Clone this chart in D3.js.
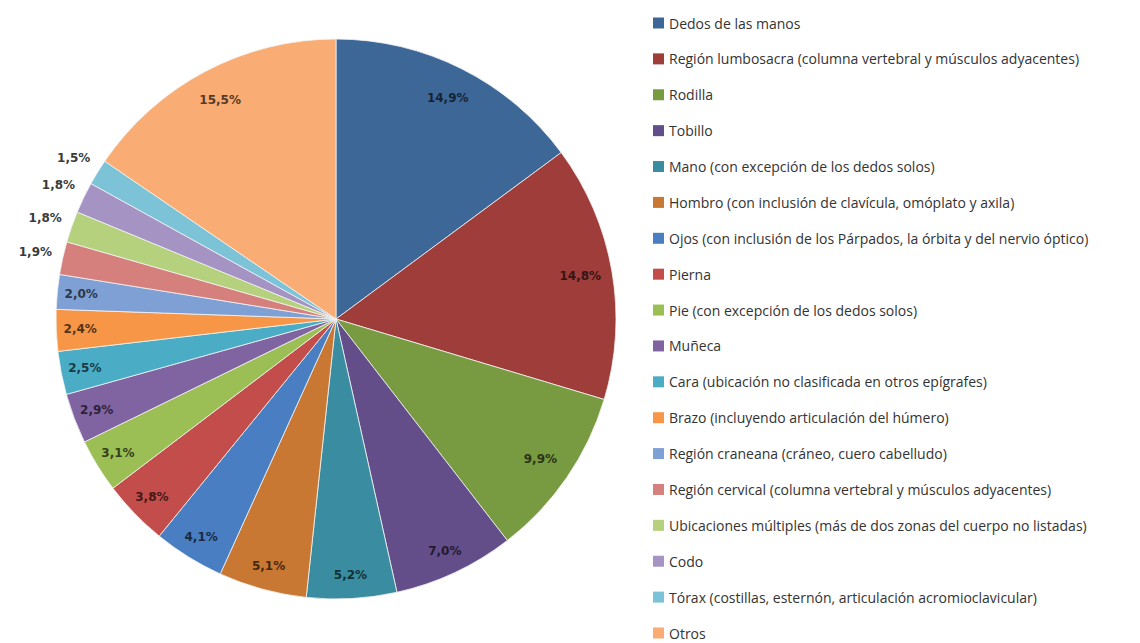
<!DOCTYPE html>
<html>
<head>
<meta charset="utf-8">
<script src="https://cdn.jsdelivr.net/npm/d3@7"></script>
<style>
  html, body { margin: 0; padding: 0; background: #fff; }
  svg { display: block; }
</style>
</head>
<body>
<svg id="chart" width="1140" height="643"></svg>
<script>
const categories = [
  "Dedos de las manos",
  "Región lumbosacra (columna vertebral y músculos adyacentes)",
  "Rodilla",
  "Tobillo",
  "Mano (con excepción de los dedos solos)",
  "Hombro (con inclusión de clavícula, omóplato y axila)",
  "Ojos (con inclusión de los Párpados, la órbita y del nervio óptico)",
  "Pierna",
  "Pie (con excepción de los dedos solos)",
  "Muñeca",
  "Cara (ubicación no clasificada en otros epígrafes)",
  "Brazo (incluyendo articulación del húmero)",
  "Región craneana (cráneo, cuero cabelludo)",
  "Región cervical (columna vertebral y músculos adyacentes)",
  "Ubicaciones múltiples (más de dos zonas del cuerpo no listadas)",
  "Codo",
  "Tórax (costillas, esternón, articulación acromioclavicular)",
  "Otros"
];
const values = [14.9, 14.8, 9.9, 7.0, 5.2, 5.1, 4.1, 3.8, 3.1, 2.9, 2.5, 2.4, 2.0, 1.9, 1.8, 1.8, 1.5, 15.5];
const labels = ["14,9%", "14,8%", "9,9%", "7,0%", "5,2%", "5,1%", "4,1%", "3,8%", "3,1%", "2,9%", "2,5%", "2,4%", "2,0%", "1,9%", "1,8%", "1,8%", "1,5%", "15,5%"];
const colors = ["#3D6797", "#9E3D3A", "#789A40", "#634E8A", "#3A8DA0", "#C97833",
                "#4A7EC2", "#C24D4A", "#9BBE55", "#8064A2", "#4BACC6", "#F79646",
                "#7FA0D4", "#D6807E", "#B5D17D", "#A593C4", "#7CC3D8", "#F9AC74"];

const svg = d3.select("#chart");
const cx = 336, cy = 319, R = 280;

const data = categories.map((c, i) => ({ name: c, value: values[i], label: labels[i], color: colors[i] }));
const pie = d3.pie().value(d => d.value).sort(null);
const arcs = pie(data);
const arc = d3.arc().innerRadius(0).outerRadius(R);
const inLabelArc = d3.arc().innerRadius(255).outerRadius(255);
const outLabelArc = d3.arc().innerRadius(308).outerRadius(308);

const g = svg.append("g").attr("transform", `translate(${cx},${cy})`);
g.selectAll("path.slice").data(arcs).join("path")
  .attr("class", "slice")
  .attr("d", arc)
  .attr("fill", d => d.data.color)
  .attr("stroke", "#f4f4f4")
  .attr("stroke-width", 0.8);

g.selectAll("text.lbl").data(arcs).join("text")
  .attr("class", "lbl")
  .attr("transform", d => {
    const big = d.data.value >= 2.0;
    const base = big ? inLabelArc : outLabelArc;
    // bigger slices: labels sit a little further in
    let r = big ? (d.data.value > 8 ? 248 : 256) : 308;
    const a = d3.arc().innerRadius(r).outerRadius(r);
    const [x, y] = a.centroid(d);
    return `translate(${x},${y})`;
  })
  .attr("text-anchor", "middle")
  .attr("dominant-baseline", "central")
  .attr("font-family", "DejaVu Sans, Verdana, sans-serif")
  .attr("font-weight", "bold")
  .attr("font-size", 12)
  .attr("fill", d => d.data.value >= 2.0 ? d3.color(d.data.color).darker(3).formatHex() : "#3a3a3a")
  .text(d => d.data.label);

// legend
const legY = d3.scalePoint().domain(categories).range([23, 633]);
const leg = svg.append("g");
const items = leg.selectAll("g.item").data(data).join("g")
  .attr("class", "item")
  .attr("transform", d => `translate(653,${legY(d.name)})`);
items.append("rect")
  .attr("x", 0).attr("y", -5.5).attr("width", 11).attr("height", 11)
  .attr("fill", d => d.color);
items.append("text")
  .attr("x", 16).attr("y", 0)
  .attr("dominant-baseline", "central")
  .attr("font-family", "Open Sans, Liberation Sans, sans-serif")
  .attr("font-size", 14)
  .attr("fill", "#333")
  .text(d => d.name);
</script>
</body>
</html>
